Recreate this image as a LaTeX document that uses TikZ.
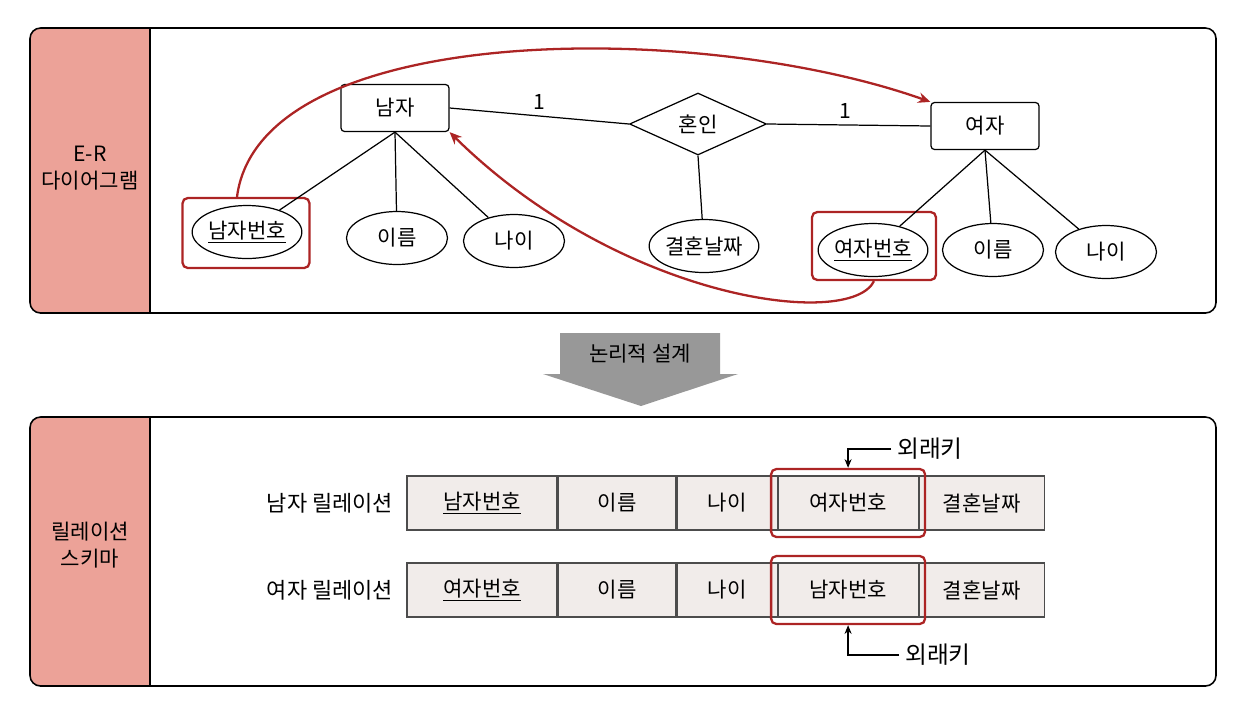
\documentclass[tikz,border=0pt]{standalone}
\usepackage{fontspec}
\setmainfont{Noto Sans CJK KR}
\usepackage{tikz}
\usetikzlibrary{positioning, shapes.geometric, arrows.meta, calc}

\definecolor{sidepink}{RGB}{236,162,152}
\definecolor{keyred}{RGB}{172,36,36}
\definecolor{cellfill}{RGB}{241,236,234}
\definecolor{stepgray}{RGB}{152,152,152}

\begin{document}
\begin{tikzpicture}[x=0.02cm, y=-0.02cm, font=\fontsize{12pt}{15pt}\selectfont,
    entity/.style={draw, rounded corners=2pt, minimum width=2.16cm, minimum height=0.94cm, line width=0.7pt},
    attr/.style={draw, ellipse, minimum width=2.02cm, minimum height=1.06cm, inner sep=0pt, line width=0.7pt},
    keybox/.style={draw=keyred, rounded corners=3pt, line width=1.3pt},
    cell/.style={draw=black!70, fill=cellfill, minimum height=1.08cm, inner sep=0pt, line width=0.6pt},
    fklink/.style={-{Stealth[length=7pt, width=6pt]}, line width=1.3pt, keyred},
    pointer/.style={-{Stealth[length=5pt, width=4pt]}, line width=0.7pt}]
            \useasboundingbox (0,0) rectangle (1248,704);

            \begin{scope}
                \clip[rounded corners=6pt] (30,28) rectangle (1216,313);
                \fill[sidepink] (30,28) rectangle (150,313);
            \end{scope}
            \draw[line width=0.9pt, rounded corners=6pt] (30,28) rectangle (1216,313);
            \draw[line width=0.7pt] (150,28) -- (150,313);
            \node[align=center] (ertitle) at (90,168) {E-R\\다이어그램};

            \node[entity] (nam) at (395,108) {남자};
            \node[entity] (yeo) at (985,126) {여자};
            \node[draw, diamond, aspect=2.2, minimum width=2.74cm, minimum height=1.24cm, inner sep=0pt, line width=0.7pt] (marry) at (698,124) {혼인};

            \node[attr] (namno) at (247,232) {\underline{남자번호}};
            \node[attr] (namname) at (397,238) {이름};
            \node[attr] (namage) at (514,241) {나이};
            \node[attr] (wed) at (704,246) {결혼날짜};
            \node[attr] (yeono) at (873,250) {\underline{여자번호}};
            \node[attr] (yeoname) at (993,250) {이름};
            \node[attr] (yeoage) at (1106,252) {나이};

            \node[keybox, minimum width=2.54cm, minimum height=1.40cm] (namkey) at (246,233) {};
            \node[keybox, minimum width=2.48cm, minimum height=1.36cm] (yeokey) at (874,246) {};

            \draw[line width=0.7pt] (nam.east) -- node[above, pos=0.5] {1} (marry.west);
            \draw[line width=0.7pt] (marry.east) -- node[above, pos=0.48] {1} (yeo.west);
            \draw[line width=0.7pt] (marry.south) -- (wed);
            \draw[line width=0.7pt] (nam.south) -- (namno);
            \draw[line width=0.7pt] (nam.south) -- (namname);
            \draw[line width=0.7pt] (nam.south) -- (namage);
            \draw[line width=0.7pt] (yeo.south) -- (yeono);
            \draw[line width=0.7pt] (yeo.south) -- (yeoname);
            \draw[line width=0.7pt] (yeo.south) -- (yeoage);

            \draw[fklink] ([xshift=-0.18cm]namkey.north) .. controls (260,20) and (700,20) .. (yeo.north west);
            \draw[fklink] (yeokey.south) .. controls (850,330) and (620,300) .. (nam.south east);

            \fill[stepgray] (560,333) -- (720,333) -- (720,374) -- (738,374) -- (641,406) -- (543,374) -- (560,374) -- cycle;
            \node (design) at (640,354) {논리적 설계};

            \begin{scope}
                \clip[rounded corners=6pt] (30,417) rectangle (1216,686);
                \fill[sidepink] (30,417) rectangle (150,686);
            \end{scope}
            \draw[line width=0.9pt, rounded corners=6pt] (30,417) rectangle (1216,686);
            \draw[line width=0.7pt] (150,417) -- (150,686);
            \node[align=center] (rstitle) at (90,545) {릴레이션\\스키마};

            \node[font=\fontsize{12.5pt}{15pt}\selectfont] (namrel) at (330,503) {남자 릴레이션};
            \node[cell, minimum width=3.0cm] (r1a) at (482,503) {\underline{남자번호}};
            \node[cell, minimum width=2.36cm, right=0pt of r1a] (r1b) {이름};
            \node[cell, minimum width=2.0cm, right=0pt of r1b] (r1c) {나이};
            \node[cell, minimum width=2.8cm, right=0pt of r1c] (r1d) {여자번호};
            \node[cell, minimum width=2.5cm, right=0pt of r1d] (r1e) {결혼날짜};
            \node[keybox, minimum width=3.08cm, minimum height=1.36cm] (r1key) at (r1d) {};

            \node[font=\fontsize{12.5pt}{15pt}\selectfont] (yeorel) at (330,590) {여자 릴레이션};
            \node[cell, minimum width=3.0cm] (r2a) at (482,590) {\underline{여자번호}};
            \node[cell, minimum width=2.36cm, right=0pt of r2a] (r2b) {이름};
            \node[cell, minimum width=2.0cm, right=0pt of r2b] (r2c) {나이};
            \node[cell, minimum width=2.8cm, right=0pt of r2c] (r2d) {남자번호};
            \node[cell, minimum width=2.5cm, right=0pt of r2d] (r2e) {결혼날짜};
            \node[keybox, minimum width=3.08cm, minimum height=1.36cm] (r2key) at (r2d) {};

            \node[font=\fontsize{13.5pt}{15pt}\selectfont] (fkone) at (930,449) {외래키};
            \node[font=\fontsize{13.5pt}{15pt}\selectfont] (fktwo) at (938,655) {외래키};
            \draw[pointer] (fkone.west) -| (r1key.north);
            \draw[pointer] (fktwo.west) -| (r2key.south);
        \end{tikzpicture}
\end{document}
